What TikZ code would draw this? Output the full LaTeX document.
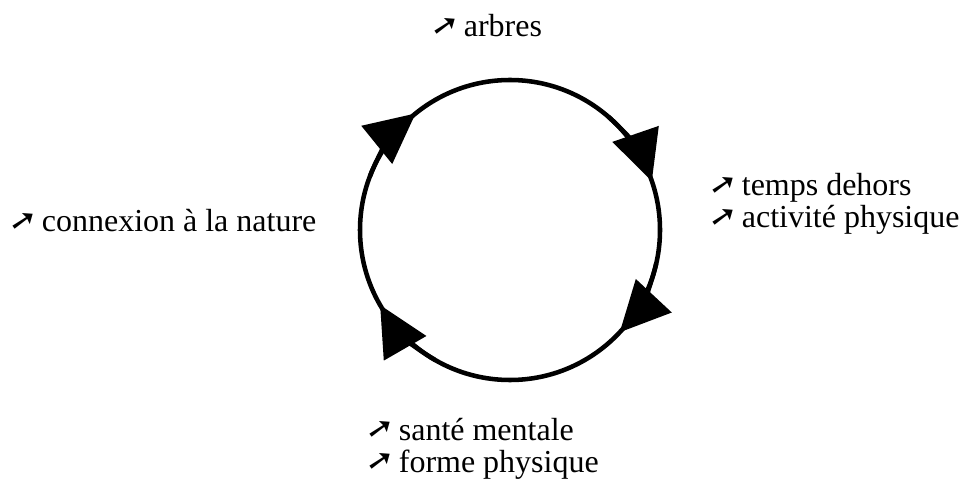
\documentclass[tikz,border=0pt]{standalone}
\usepackage{fontspec}
\setmainfont{Liberation Serif}
\newfontfamily\symfont{DejaVu Sans Bold}
\usetikzlibrary{arrows.meta}
\newcommand{\upmark}{\raisebox{0.1em}{\rotatebox{-10}{\symfont\fontsize{24}{24}\selectfont ➚}}\hspace{3pt}}

\begin{document}
\begin{tikzpicture}[x=0.75pt, y=0.75pt,
        lbl/.style={anchor=base west, inner sep=0pt, align=left, font=\fontsize{24}{24}\selectfont},
        cyc/.style={line width=3.4pt},
        cycarrow/.style={line width=3.4pt, -{Triangle[length=37.5pt, width=36pt]}}]
        \useasboundingbox (0,0) rectangle (963,486);

        % Draw cycle
        \coordinate (c) at (510,256);
        \draw[cyc] (c) circle[radius=150];

        % Draw arrows
        \draw[cycarrow] ([shift={(159:150)}]c) arc[start angle=159, end angle=129, radius=150];
        \draw[cycarrow] ([shift={(49:150)}]c) arc[start angle=49, end angle=19, radius=150];
        \draw[cycarrow] ([shift={(-13:150)}]c) arc[start angle=-13, end angle=-43, radius=150];
        \draw[cycarrow] ([shift={(240:150)}]c) arc[start angle=240, end angle=210, radius=150];

        % Labels
        \node[lbl] (arbres) at (430,449) {\upmark arbres};
        \node[lbl] (nature) at (8,254) {\upmark connexion à la nature};
        \node[lbl] (dehors) at (708,258) {\upmark temps dehors\\\upmark activité physique};
        \node[lbl] (sante) at (365,14) {\upmark santé mentale\\\upmark forme physique};
    \end{tikzpicture}
\end{document}
